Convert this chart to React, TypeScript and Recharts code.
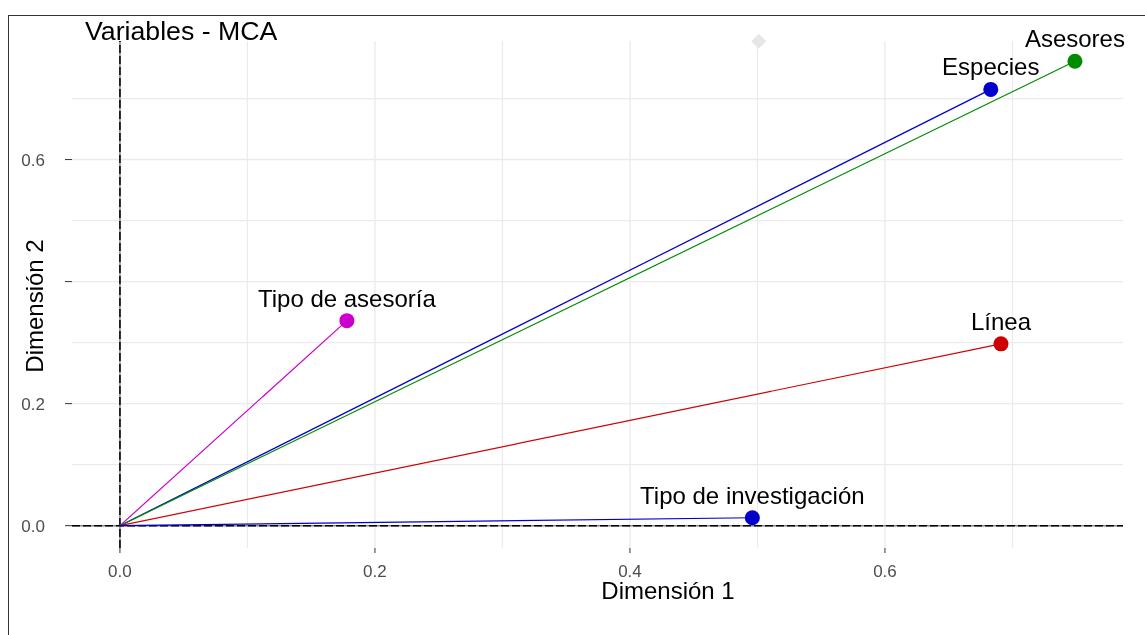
import React from 'react';
import { ScatterChart, Scatter, XAxis, YAxis, ReferenceLine } from 'recharts';

// MCA variable coordinates
const variables = ['Tipo de asesoría', 'Especies', 'Asesores', 'Línea', 'Tipo de investigación'];
const dim1 = [0.178, 0.683, 0.749, 0.691, 0.496];
const dim2 = [0.336, 0.715, 0.761, 0.298, 0.013];
const palette = ['#CC00CC', '#0000CD', '#008B00', '#CD0000', '#0000CD'];

// faint supplementary marker at the top
const supDim1 = [0.501];
const supDim2 = [0.794];

const xMajor = [0, 0.2, 0.4, 0.6];
const xMinor = [0.1, 0.3, 0.5, 0.7];
const yMajor = [0, 0.2, 0.4, 0.6];
const yMinor = [0.1, 0.3, 0.5, 0.7];
const yHiddenLabel = 0.4;

const FONT = '"Liberation Sans", Arial, Helvetica, sans-serif';
const GRID = '#EBEBEB';

const rows = variables.map((name, i) => ({ name, x: dim1[i], y: dim2[i], color: palette[i] }));
const supRows = supDim1.map((x, i) => ({ x, y: supDim2[i] }));

const VarPoint = (props: any) => {
  const { cx, cy, payload } = props;
  return (
    <g>
      <circle cx={cx} cy={cy} r={7.5} fill={payload.color} />
      <text x={cx} y={cy - 14} textAnchor="middle" fontSize={24} fontFamily={FONT} fill="#000">
        {payload.name}
      </text>
    </g>
  );
};

const Diamond = (props: any) => {
  const { cx, cy } = props;
  const r = 7.5;
  return <polygon points={`${cx},${cy - r} ${cx + r},${cy} ${cx},${cy + r} ${cx - r},${cy}`} fill="#E6E6E6" />;
};

export default function App() {
  return (
    <div style={{ position: 'relative', width: 1129, height: 619, fontFamily: FONT }}>
      <div
        style={{
          position: 'fixed',
          left: 8,
          top: 15,
          width: 1300,
          height: 800,
          border: '1.5px solid #333',
          pointerEvents: 'none',
        }}
      />
      <ScatterChart width={1129} height={619} margin={{ top: 33, right: 14, bottom: 0, left: 0 }}>
        {xMinor.map((v) => (
          <ReferenceLine key={'xm' + v} x={v} stroke={GRID} strokeWidth={1.2} />
        ))}
        {yMinor.map((v) => (
          <ReferenceLine key={'ym' + v} y={v} stroke={GRID} strokeWidth={1.2} />
        ))}
        {xMajor.map((v) => (
          <ReferenceLine key={'xM' + v} x={v} stroke={GRID} strokeWidth={1.4} />
        ))}
        {yMajor.map((v) => (
          <ReferenceLine key={'yM' + v} y={v} stroke={GRID} strokeWidth={1.4} />
        ))}
        <XAxis
          type="number"
          dataKey="x"
          domain={[-0.0376, 0.7867]}
          ticks={xMajor}
          tickFormatter={(v: number) => v.toFixed(1)}
          axisLine={false}
          tickLine={{ stroke: '#333' }}
          tickSize={5}
          tickMargin={12}
          tick={{ fill: '#4D4D4D', fontSize: 17, fontFamily: FONT }}
          height={79}
        />
        <YAxis
          type="number"
          dataKey="y"
          domain={[-0.0366, 0.7943]}
          ticks={yMajor}
          tickFormatter={(v: number) => (v === yHiddenLabel ? '' : v.toFixed(1))}
          axisLine={false}
          tickLine={{ stroke: '#333' }}
          tickSize={7}
          tickMargin={20}
          tick={{ fill: '#4D4D4D', fontSize: 17, fontFamily: FONT }}
          width={64}
        />
        <ReferenceLine x={0} stroke="#888" strokeWidth={1.5} />
        <ReferenceLine x={0} stroke="#000" strokeWidth={1.5} strokeDasharray="8 3" />
        <ReferenceLine y={0} stroke="#888" strokeWidth={1.5} />
        <ReferenceLine y={0} stroke="#000" strokeWidth={1.5} strokeDasharray="8 3" />
        {rows.map((r) => (
          <ReferenceLine
            key={'seg' + r.name}
            segment={[
              { x: 0, y: 0 },
              { x: r.x, y: r.y },
            ]}
            stroke={r.color}
            strokeWidth={1.2}
          />
        ))}
        <Scatter data={supRows} shape={<Diamond />} isAnimationActive={false} />
        <Scatter data={rows} shape={<VarPoint />} isAnimationActive={false} />
      </ScatterChart>
      <svg
        width={1129}
        height={619}
        style={{ position: 'absolute', left: 0, top: 0, pointerEvents: 'none' }}
        fontFamily={FONT}
      >
        <text x={77} y={32} fontSize={26.7} fill="#000">
          Variables - MCA
        </text>
        <text x={660} y={591} fontSize={24} textAnchor="middle" fill="#000">
          Dimensión 1
        </text>
        <text transform="translate(35, 298) rotate(-90)" fontSize={24} textAnchor="middle" fill="#000">
          Dimensión 2
        </text>
      </svg>
    </div>
  );
}
